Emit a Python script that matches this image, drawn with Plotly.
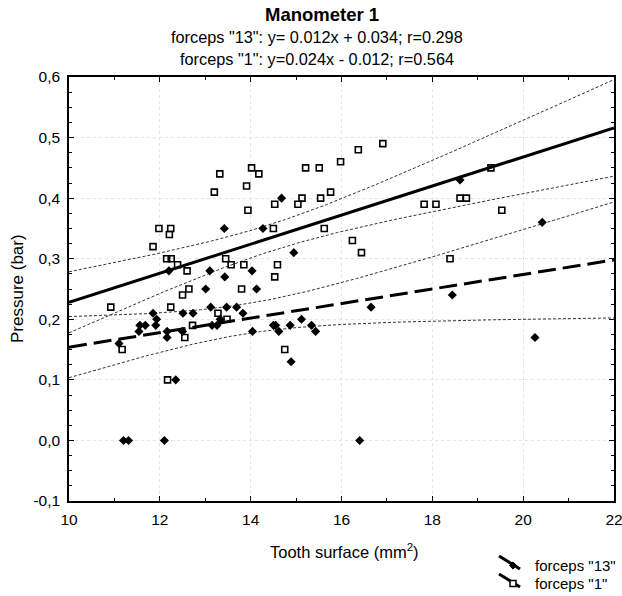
import numpy as np
import plotly.graph_objects as go

# ---- data ----
f13_x = [11.20, 11.31, 12.10, 16.40, 12.35, 14.89, 11.10, 12.16, 20.26,
         11.54, 12.16, 12.50, 14.04, 14.62, 15.43,
         11.56, 11.68, 11.91, 13.15, 13.26, 14.50, 14.55, 14.87, 15.34,
         11.93, 13.33, 15.12,
         11.85, 12.51, 12.73, 13.83,
         13.12, 13.47, 13.69, 16.65,
         18.44, 13.01, 14.13, 13.43,
         12.20, 13.10, 14.03, 14.95,
         13.42, 14.27, 20.42, 14.68, 18.61]
f13_y = [0.00, 0.00, 0.00, 0.00, 0.10, 0.13, 0.16, 0.17, 0.17,
         0.18, 0.18, 0.18, 0.18, 0.18, 0.18,
         0.19, 0.19, 0.19, 0.19, 0.19, 0.19, 0.19, 0.19, 0.19,
         0.20, 0.20, 0.20,
         0.21, 0.21, 0.21, 0.21,
         0.22, 0.22, 0.22, 0.22,
         0.24, 0.25, 0.25, 0.27,
         0.28, 0.28, 0.28, 0.31,
         0.35, 0.35, 0.36, 0.40, 0.43]

f1_x = [10.92, 11.17, 11.85, 11.98, 12.24, 12.21, 12.15, 12.25, 12.39, 12.60,
        12.64, 12.50, 12.24, 12.55, 12.72, 12.17,
        13.20, 13.32, 13.45, 13.57, 13.85, 13.80, 13.28, 13.48,
        13.91, 13.94, 14.02, 14.18,
        14.53, 14.50, 14.59, 14.53, 14.75,
        15.04, 15.13, 15.21, 15.51, 15.54, 15.62, 15.76, 15.98, 16.24, 16.44,
        16.37, 16.91,
        17.82, 18.08, 18.39, 18.61, 18.75, 19.29, 19.53]
f1_y = [0.22, 0.15, 0.32, 0.35, 0.35, 0.34, 0.30, 0.30, 0.29, 0.28,
        0.25, 0.24, 0.22, 0.17, 0.19, 0.10,
        0.41, 0.44, 0.30, 0.29, 0.29, 0.25, 0.21, 0.20,
        0.42, 0.38, 0.45, 0.44,
        0.39, 0.35, 0.29, 0.27, 0.15,
        0.39, 0.40, 0.45, 0.45, 0.40, 0.35, 0.41, 0.46, 0.33, 0.31,
        0.48, 0.49,
        0.39, 0.39, 0.30, 0.40, 0.40, 0.45, 0.38]

series_names = ['forceps "13"', 'forceps "1"']

# regression coefficients printed in the title
f13_slope, f13_icpt, f13_r = 0.012, 0.034, 0.298
f1_slope, f1_icpt, f1_r = 0.024, -0.012, 0.564
T95 = 1.98

x_ticks = [10, 12, 14, 16, 18, 20, 22]
y_ticks = [-0.1, 0.0, 0.1, 0.2, 0.3, 0.4, 0.5, 0.6]
y_ticktext = ["-0,1", "0,0", "0,1", "0,2", "0,3", "0,4", "0,5", "0,6"]


def fit_and_band(xv, yv, slope, icpt, xs):
    xv = np.asarray(xv, float)
    yv = np.asarray(yv, float)
    n = len(xv)
    resid = yv - (slope * xv + icpt)
    s = np.sqrt(np.sum(resid ** 2) / (n - 2))
    xbar = xv.mean()
    sxx = np.sum((xv - xbar) ** 2)
    yhat = slope * xs + icpt
    h = T95 * s * np.sqrt(1.0 / n + (xs - xbar) ** 2 / sxx)
    return yhat, yhat - h, yhat + h


xs = np.linspace(x_ticks[0], x_ticks[-1], 200)
f13_fit, f13_lo, f13_hi = fit_and_band(f13_x, f13_y, f13_slope, f13_icpt, xs)
f1_fit, f1_lo, f1_hi = fit_and_band(f1_x, f1_y, f1_slope, f1_icpt, xs)

fig = go.Figure()

band_line = dict(color="#333333", width=1, dash="3px,2px")
for yy in (f13_lo, f13_hi, f1_lo, f1_hi):
    fig.add_trace(go.Scatter(x=xs, y=yy, mode="lines", line=band_line,
                             showlegend=False, hoverinfo="skip"))

fig.add_trace(go.Scatter(x=xs, y=f13_fit, mode="lines", name=series_names[0] + " fit",
                         line=dict(color="black", width=3, dash="18px,7px"),
                         showlegend=False))
fig.add_trace(go.Scatter(x=xs, y=f1_fit, mode="lines", name=series_names[1] + " fit",
                         line=dict(color="black", width=3),
                         showlegend=False))

fig.add_trace(go.Scatter(x=f13_x, y=f13_y, mode="markers", name=series_names[0],
                         marker=dict(symbol="diamond", size=7, color="black"),
                         showlegend=False))
fig.add_trace(go.Scatter(x=f1_x, y=f1_y, mode="markers", name=series_names[1],
                         marker=dict(symbol="square-open", size=6, color="black",
                                     line=dict(width=1.6, color="black")),
                         showlegend=False))

FONT = "Liberation Sans, Arial, sans-serif"
axis_common = dict(showline=True, linecolor="black", linewidth=1.5, mirror="allticks",
                   ticks="inside", ticklen=5, tickwidth=1, tickcolor="black",
                   showgrid=True, gridcolor="#e4e4e4", griddash="dot", gridwidth=1,
                   zeroline=False, automargin=False, ticklabeloverflow="allow",
                   tickfont=dict(family=FONT, size=15.5, color="black"))

PLOT_TOP, PLOT_BOTTOM, PLOT_LEFT, PLOT_W = 77, 501, 69, 545
PLOT_H = PLOT_BOTTOM - PLOT_TOP


def py(px):
    return (PLOT_BOTTOM - px) / PLOT_H


def pxr(px):
    return (px - PLOT_LEFT) / PLOT_W


# hand-drawn legend key (slanted line + marker), as in the reference
legend_rows = [(565, series_names[0], "diamond"), (583, series_names[1], "square")]
shapes = []
legend_annotations = []
for yc, label, sym in legend_rows:
    shapes.append(dict(type="line", xref="paper", yref="paper",
                       x0=pxr(499), y0=py(yc - 9), x1=pxr(520), y1=py(yc + 4),
                       line=dict(color="black", width=3)))
    mx, my = 513, yc + 0.5
    if sym == "diamond":
        r = 3.6
        path = "M %f %f L %f %f L %f %f L %f %f Z" % (
            pxr(mx - r), py(my), pxr(mx), py(my - r), pxr(mx + r), py(my), pxr(mx), py(my + r))
        shapes.append(dict(type="path", xref="paper", yref="paper", path=path,
                           fillcolor="black", line=dict(color="black", width=1)))
    else:
        r = 3
        shapes.append(dict(type="rect", xref="paper", yref="paper",
                           x0=pxr(mx - r), y0=py(my + r), x1=pxr(mx + r), y1=py(my - r),
                           fillcolor="white", line=dict(color="black", width=1.5)))
    legend_annotations.append(dict(text=label, x=pxr(534), y=py(yc), xref="paper", yref="paper",
                                   showarrow=False, xanchor="left", yanchor="middle",
                                   borderpad=0,
                                   font=dict(family=FONT, size=15, color="black")))

fig.update_layout(
    width=622, height=596,
    margin=dict(l=69, r=8, t=77, b=95),
    paper_bgcolor="white", plot_bgcolor="white",
    font=dict(family=FONT, color="black"),
    showlegend=False,
    xaxis=dict(range=[x_ticks[0], x_ticks[-1]], tickvals=x_ticks,
               minor=dict(dtick=1, ticks="inside", ticklen=3, tickcolor="black", showgrid=False),
               ticklabelstandoff=4, **axis_common),
    yaxis=dict(range=[y_ticks[0], y_ticks[-1]], tickvals=y_ticks, ticktext=y_ticktext,
               minor=dict(dtick=0.025, ticks="inside", ticklen=3, tickcolor="black", showgrid=False),
               ticklabelstandoff=4, **axis_common),
    shapes=shapes,
    annotations=[
        dict(text="<b>Manometer 1</b>", x=pxr(322), y=py(14.5), xref="paper", yref="paper",
             showarrow=False, font=dict(family=FONT, size=18.5), xanchor="center", yanchor="middle"),
        dict(text='forceps "13": y= %.3fx + %.3f; r=%.3f' % (f13_slope, f13_icpt, f13_r),
             x=pxr(317), y=py(37.5), xref="paper", yref="paper",
             showarrow=False, font=dict(family=FONT, size=16.3), xanchor="center", yanchor="middle"),
        dict(text='forceps "1": y=%.3fx - %.3f; r=%.3f' % (f1_slope, abs(f1_icpt), f1_r),
             x=pxr(317), y=py(58.5), xref="paper", yref="paper",
             showarrow=False, font=dict(family=FONT, size=16.3), xanchor="center", yanchor="middle"),
        dict(text="Tooth surface (mm<sup>2</sup>)", x=pxr(344), y=py(551),
             xref="paper", yref="paper", showarrow=False,
             font=dict(family=FONT, size=16.5), xanchor="center", yanchor="middle"),
        dict(text="Pressure (bar)", x=pxr(17), y=py(289), textangle=-90,
             xref="paper", yref="paper", showarrow=False,
             font=dict(family=FONT, size=17), xanchor="center", yanchor="middle"),
    ] + legend_annotations,
)

# remove the default 8px page margin so the figure sits at the window's top-left corner
fig.write_html("out.html", config={"displayModeBar": False},
               post_script="document.body.style.margin='0';document.body.style.overflow='hidden';")
